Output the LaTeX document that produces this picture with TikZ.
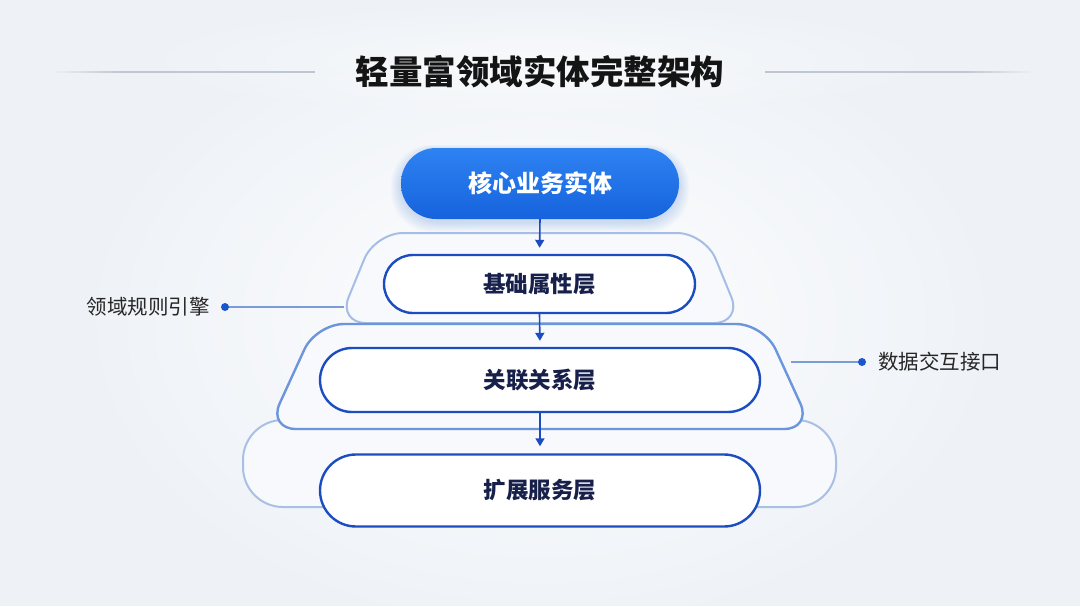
\documentclass[tikz,border=0pt]{standalone}
\usepackage{fontspec}
\newfontfamily\cjk{Noto Sans CJK SC}
\newfontfamily\cjkblack{Noto Sans CJK SC}[UprightFont=* Black]
\usetikzlibrary{arrows.meta,fadings}
\tikzfading[name=softglow, inner color=transparent!0, outer color=transparent!100]
\definecolor{bgc}{HTML}{EEF2F7}
\definecolor{linec}{HTML}{BFC7D2}
\definecolor{coreblue}{HTML}{1F6FEA}
\definecolor{coretop}{HTML}{2E82F2}
\definecolor{corebot}{HTML}{1663DD}
\definecolor{navy}{HTML}{1B4DC1}
\definecolor{textnavy}{HTML}{17204A}
\definecolor{outerA}{HTML}{A6BEE6}
\definecolor{outerB}{HTML}{6C96DB}
\definecolor{outerC}{HTML}{A9C0E4}
\definecolor{outerfill}{HTML}{F7F9FD}
\definecolor{dotc}{HTML}{1A56CC}
\definecolor{sidelinec}{HTML}{7C9CD9}
\begin{document}
\begin{tikzpicture}[x=1pt,y=-1pt,
  corebox/.style={minimum width=278pt,minimum height=71pt,rounded corners=35pt,
    top color=coretop,bottom color=corebot,draw=none,text=white,inner sep=0pt,
    font=\cjk\bfseries\fontsize{24}{24}\selectfont},
  layerbox/.style={draw=navy,line width=2.4pt,fill=white,inner sep=0pt,text=textnavy,
    font=\cjk\bfseries\fontsize{22.5}{22.5}\selectfont},
  outershape/.style={fill=outerfill,line width=2pt,rounded corners=28pt},
  flow/.style={draw=navy,line width=1.6pt,-{Triangle[length=8pt,width=9pt]}},
  sideline/.style={draw=sidelinec,line width=1.3pt},
  sidedot/.style={circle,fill=dotc,inner sep=0pt,minimum size=8pt},
  sidelabel/.style={text=black!85,inner sep=0pt,font=\cjk\fontsize{20.5}{20.5}\selectfont},
  titlestyle/.style={text=black!92,inner sep=0pt,font=\cjkblack\fontsize{33.5}{33.5}\selectfont}
]
\useasboundingbox (0,0) rectangle (1080,606);
% background
\fill[bgc] (0,0) rectangle (1080,606);
\fill[white,path fading=softglow,opacity=0.95] (540,320) ellipse (470 and 320);
\fill[white,path fading=softglow,opacity=0.5] (540,60) ellipse (420 and 60);

% title
\node[titlestyle] (title) at (540,72) {轻量富领域实体完整架构};
\shade[left color=bgc,right color=linec] (50,71.4) rectangle (120,72.6);
\fill[linec] (120,71.4) rectangle (315,72.6);
\fill[linec] (765,71.4) rectangle (965,72.6);
\shade[left color=linec,right color=bgc] (965,71.4) rectangle (1035,72.6);

% soft glow under core box
\foreach \i in {1,...,10}{
  \fill[coreblue,opacity=0.02,rounded corners=40pt] (401-\i,150-0.5*\i) rectangle (679+\i,222+\i);
}

% outer layer shapes
\draw[outershape,draw=outerC,rounded corners=40pt] (243,420) rectangle (836,507);
\draw[outershape,draw=outerA] (375,233) -- (705,233) -- (742,323) -- (338,323) -- cycle;
\draw[outershape,draw=outerB,line width=2.4pt] (316,324) -- (764,324) -- (812,429) -- (268,429) -- cycle;

\coordinate (leftedge) at (344,307);
\coordinate (rightedge) at (791,362);

% inner layers
\node[layerbox,minimum width=311pt,minimum height=58pt,rounded corners=29pt] (l1) at (539.5,284) {基础属性层};
\node[layerbox,minimum width=440pt,minimum height=64pt,rounded corners=32pt] (l2) at (540,380) {关联关系层};
\node[layerbox,minimum width=440pt,minimum height=72pt,rounded corners=36pt] (l3) at (540,490.5) {扩展服务层};

% core box
\node[corebox] (core) at (540,183.5) {核心业务实体};

% flow arrows
\draw[flow,shorten >=6pt] (core.south) -- (l1.north);
\draw[flow,shorten >=6pt] (l1.south) -- (l2.north);
\draw[flow,shorten >=7pt] (l2.south) -- (l3.north);

% side annotations
\node[sidelabel,anchor=east] (llabel) at (210,307) {领域规则引擎};
\node[sidelabel,anchor=west] (rlabel) at (878,362) {数据交互接口};
\draw[sideline] (225,307) coordinate (ldotc) -- (leftedge);
\draw[sideline] (rightedge) -- (862,362) coordinate (rdotc);
\node[sidedot] (ldot) at (ldotc) {};
\node[sidedot] (rdot) at (rdotc) {};
\end{tikzpicture}
\end{document}
